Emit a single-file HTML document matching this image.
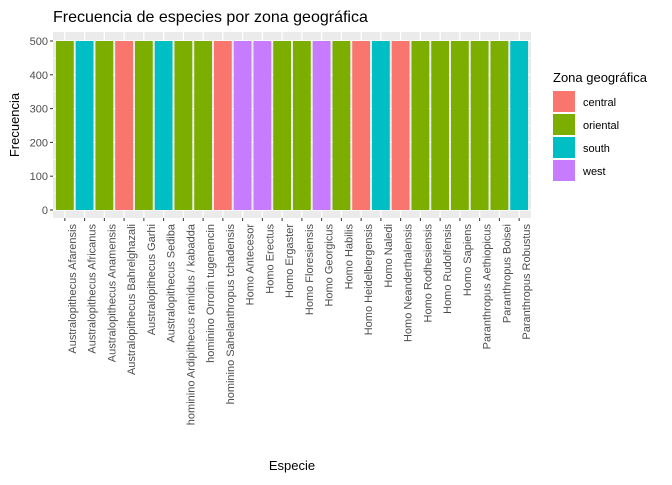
<!DOCTYPE html>
<html><head><meta charset="utf-8"><style>
body{margin:0;background:#fff;}
svg{font-family:"Liberation Sans",Arial,sans-serif;}
</style></head><body>
<svg id="chart" width="672" height="480">
<text x="53" y="22" font-size="16" fill="#000">Frecuencia de especies por zona geográfica</text>
<text x="292" y="470" font-size="13" fill="#000" text-anchor="middle">Especie</text>
<text transform="translate(19,125) rotate(-90)" font-size="13" fill="#000" text-anchor="middle">Frecuencia</text>
<g id="plot"></g>
<g id="legend">
<text x="553" y="82" font-size="13" fill="#000">Zona geográfica</text>
</g>
</svg>
<script>
const species=["Australopithecus Afarensis","Australopithecus Africanus","Australopithecus Anamensis","Australopithecus Bahrelghazali","Australopithecus Garhi","Australopithecus Sediba","hominino Ardipithecus ramidus / kabadda","hominino Orrorin tugenencin","hominino Sahelanthropus tchadensis","Homo Antecesor","Homo Erectus","Homo Ergaster","Homo Floresiensis","Homo Georgicus","Homo Habilis","Homo Heidelbergensis","Homo Naledi","Homo Neanderthalensis","Homo Rodhesiensis","Homo Rudolfensis","Homo Sapiens","Paranthropus Aethiopicus","Paranthropus Boisei","Paranthropus Robustus"];
const zones=["oriental","south","oriental","central","oriental","south","oriental","oriental","central","west","west","oriental","oriental","west","oriental","central","south","central","oriental","oriental","oriental","oriental","oriental","south"];
const counts=[500,500,500,500,500,500,500,500,500,500,500,500,500,500,500,500,500,500,500,500,500,500,500,500];
const yTicks=[0,100,200,300,400,500];
const zoneNames=["central","oriental","south","west"];
const zoneColors=["#F8766D","#7CAE00","#00BFC4","#C77CFF"];
const NS="http://www.w3.org/2000/svg";
const g=document.getElementById('plot');
const L=53,R=531,T=32,B=218,y0=210,y500=41;
const step=(R-L)/(species.length+0.2);
const xs=i=>L+step*(0.6+i);
const ys=v=>y0-(y0-y500)*v/500;
function mk(t,a){const e=document.createElementNS(NS,t);for(const k in a)e.setAttribute(k,a[k]);return e;}
const bg=mk('rect',{x:L,y:T,width:R-L,height:B-T,fill:'#EBEBEB'});


g.appendChild(bg);
for(let k=0;k<yTicks.length-1;k++){const m=(yTicks[k]+yTicks[k+1])/2;const l=mk('line',{x1:L,x2:R,y1:ys(m),y2:ys(m),stroke:'#fff','stroke-width':0.6});g.appendChild(l);}
yTicks.forEach(v=>{const l=mk('line',{x1:L,x2:R,y1:ys(v),y2:ys(v),stroke:'#fff','stroke-width':1.2});g.appendChild(l);
const t=mk('line',{x1:L-3,x2:L,y1:ys(v),y2:ys(v),stroke:'#333'});g.appendChild(t);
const tx=mk('text',{x:L-5,y:ys(v)+4,'font-size':11,fill:'#4d4d4d','text-anchor':'end'});tx.textContent=v;g.appendChild(tx);});
species.forEach((s,i)=>{const x=xs(i);
const l=mk('line',{x1:x,x2:x,y1:T,y2:B,stroke:'#fff','stroke-width':1.2});g.appendChild(l);});
species.forEach((s,i)=>{const x=xs(i),w=step*0.9;
const r=mk('rect',{x:x-w/2,y:ys(counts[i]),width:w,height:y0-ys(counts[i]),fill:zoneColors[zoneNames.indexOf(zones[i])]});
g.appendChild(r);
const t=mk('line',{x1:x,x2:x,y1:B,y2:B+3,stroke:'#333'});g.appendChild(t);
const tx=mk('text',{transform:`translate(${x+11},${B+6}) rotate(-90)`,'font-size':11,fill:'#4d4d4d','text-anchor':'end'});tx.textContent=s;g.appendChild(tx);});
const lg=document.getElementById('legend');
zoneNames.forEach((z,i)=>{const y=91+i*23;
const r=mk('rect',{x:553,y:y,width:22,height:21,fill:zoneColors[i]});lg.appendChild(r);
const t=mk('text',{x:583,y:y+15,'font-size':11,fill:'#000'});t.textContent=z;lg.appendChild(t);});
</script>
</body></html>
